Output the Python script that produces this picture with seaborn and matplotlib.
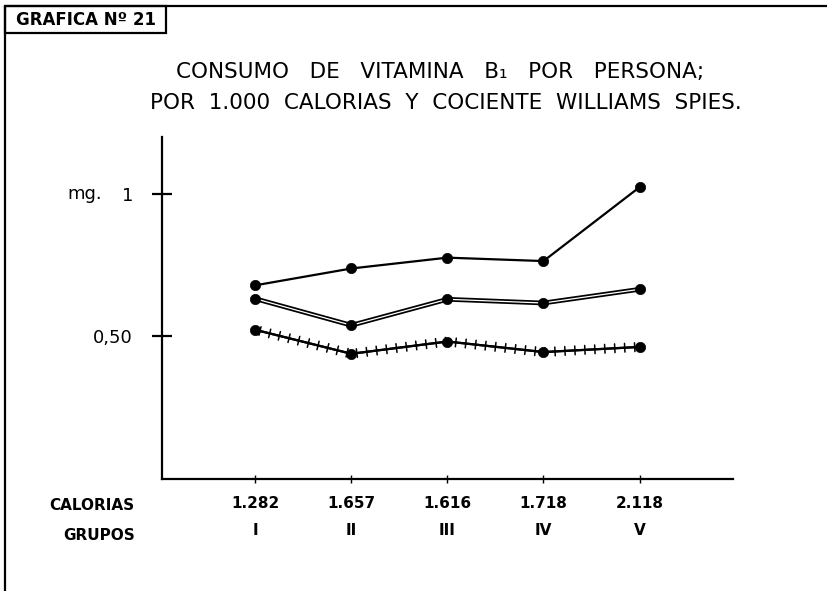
import numpy as np
import pandas as pd
import matplotlib
matplotlib.use('Agg')
import matplotlib.pyplot as plt
import matplotlib.patheffects as pe
import seaborn as sns

# data (mg of vitamin B1)
grupos = ['I', 'II', 'III', 'IV', 'V']
calorias = ['1.282', '1.657', '1.616', '1.718', '2.118']
serie_alta = [0.679, 0.738, 0.776, 0.764, 1.023]     # solid line
serie_doble = [0.632, 0.539, 0.630, 0.617, 0.665]    # double line
serie_cruz = [0.523, 0.439, 0.482, 0.445, 0.463]     # crossed line
yticks = [0.5, 1.0]
yticklabels = ['0,50', '1']

df = pd.DataFrame({'pos': np.arange(len(grupos)),
                   'alta': serie_alta, 'doble': serie_doble, 'cruz': serie_cruz})

sns.set_style('ticks')
plt.rcParams['font.family'] = ['DejaVu Sans']
plt.rcParams['text.color'] = 'black'
plt.rcParams['xtick.color'] = 'black'
plt.rcParams['ytick.color'] = 'black'

fig = plt.figure(figsize=(8.27, 5.91), dpi=100)
ax = fig.add_axes([0.196, 0.1895, 0.690, 0.5792])

# top solid line
sns.lineplot(data=df, x='pos', y='alta', color='black', linewidth=1.6, ax=ax)

# double line: thick black stroke with a thin white core
sns.lineplot(data=df, x='pos', y='doble', color='white', linewidth=0.9, ax=ax,
             path_effects=[pe.Stroke(linewidth=3.4, foreground='black'), pe.Normal()])

# crossed line
sns.lineplot(data=df, x='pos', y='cruz', color='black', linewidth=1.6, ax=ax,
             path_effects=[pe.withTickedStroke(angle=90, spacing=7, length=0.45, linewidth=1.1),
                           pe.withTickedStroke(angle=-90, spacing=7, length=0.45, linewidth=1.1)])

# dots on every point
for col in ['alta', 'doble', 'cruz']:
    sns.scatterplot(data=df, x='pos', y=col, color='black', s=55, edgecolor='black',
                    linewidth=0.5, zorder=5, ax=ax)

ax.set_xlim(-0.97, 4.97)
ax.set_ylim(0, 1.2)
ax.set_xlabel('')
ax.set_ylabel('')
sns.despine(ax=ax)
for sp in ['left', 'bottom']:
    ax.spines[sp].set_linewidth(1.6)
    ax.spines[sp].set_color('black')

ax.set_yticks(yticks)
ax.set_yticklabels(yticklabels, fontsize=13)
ax.tick_params(axis='y', direction='inout', length=14, width=1.6, pad=14)
ax.set_xticks(df['pos'])
ax.set_xticklabels([f'{c}\n{g}' for c, g in zip(calorias, grupos)],
                   fontsize=11, fontweight='bold', linespacing=2.0)
ax.tick_params(axis='x', direction='inout', length=6, width=1.0, pad=9)

# row headers and unit
fig.text(0.163, 1 - 505 / 591, 'CALORIAS', ha='right', va='center', fontsize=11, fontweight='bold')
fig.text(0.163, 1 - 535 / 591, 'GRUPOS', ha='right', va='center', fontsize=11, fontweight='bold')
fig.text(85 / 827, 1 - 194 / 591, 'mg.', ha='center', va='center', fontsize=13)

# title
fig.text(440 / 827, 1 - 72 / 591, 'CONSUMO   DE   VITAMINA   B₁   POR   PERSONA;',
         ha='center', va='center', fontsize=15.5)
fig.text(446 / 827, 1 - 103 / 591, 'POR  1.000  CALORIAS  Y  COCIENTE  WILLIAMS  SPIES.',
         ha='center', va='center', fontsize=15.5)

# frame of the sheet and label box
fig.add_artist(plt.Line2D([5 / 827, 5 / 827], [0, 1 - 6 / 591], transform=fig.transFigure,
                          color='black', linewidth=1.6))
fig.add_artist(plt.Line2D([5 / 827, 1], [1 - 6 / 591, 1 - 6 / 591], transform=fig.transFigure,
                          color='black', linewidth=1.6))
fig.add_artist(plt.Rectangle((5 / 827, 1 - 33 / 591), 161 / 827, 27 / 591,
                             transform=fig.transFigure, fill=False, edgecolor='black',
                             linewidth=1.6))
fig.text(86 / 827, 1 - 20 / 591, 'GRAFICA Nº 21', ha='center', va='center',
         fontsize=12, fontweight='bold')

fig.savefig('out.png', dpi=100, facecolor='white')
